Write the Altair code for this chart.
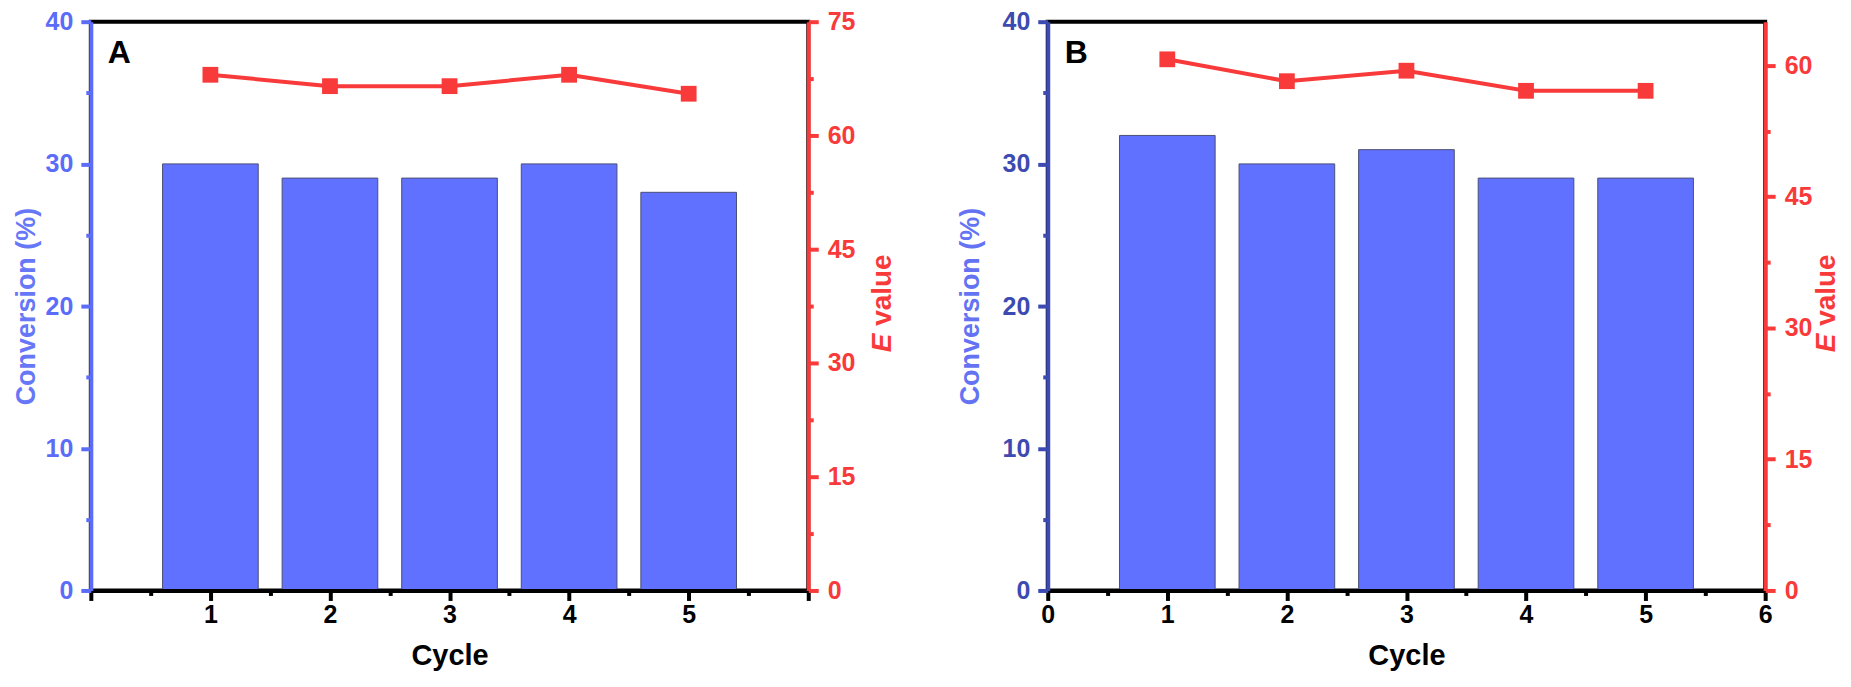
import altair as alt
import pandas as pd

FONT = "Liberation Sans"

# ---- data ----
cycles = [1, 2, 3, 4, 5]
conversion_a = [30, 29, 29, 30, 28]
e_value_a = [68.0, 66.5, 66.5, 68.0, 65.5]
conversion_b = [32, 30, 31, 29, 29]
e_value_b = [60.7, 58.2, 59.4, 57.1, 57.1]

x_ticks = [0, 0.5, 1, 1.5, 2, 2.5, 3, 3.5, 4, 4.5, 5, 5.5, 6]
conv_ticks = [0, 5, 10, 15, 20, 25, 30, 35, 40]
e_ticks_a = [0, 7.5, 15, 22.5, 30, 37.5, 45, 52.5, 60, 67.5, 75]
e_ticks_b = [0, 7.5, 15, 22.5, 30, 37.5, 45, 52.5, 60]

BAR = "#6070FF"
RED = "#F83A3A"
W, H = 719, 570
LBL = 25


def panel(letter, conv, ev, e_max, e_ticks, left_color, left_title_color,
          x_label_expr, left_title_pad, e_offset):
    df = pd.DataFrame({"cycle": cycles, "conversion": conv, "evalue": ev})
    xscale = alt.Scale(domain=[0, 6], nice=False, zero=False)
    xaxis = alt.Axis(
        values=x_ticks, title="Cycle", labelExpr=x_label_expr,
        tickSize={"condition": {"test": "datum.value % 1 != 0", "value": 5}, "value": 10},
        tickWidth=4, tickColor="black", domainColor="black", domainWidth=4,
        labelColor="black", labelFontSize=LBL, labelFontWeight="bold", labelPadding=2,
        titleFontSize=29, titleFontWeight="bold", titleColor="black", titlePadding=14,
        labelOverlap=False, labelFlush=False, labelBound=False, grid=False, zindex=1,
        orient="bottom",
    )
    left_axis = alt.Axis(
        values=conv_ticks, title="Conversion (%)",
        labelExpr="datum.value % 10 == 0 ? '' + datum.value : ''",
        tickSize={"condition": {"test": "datum.value % 10 != 0", "value": 5}, "value": 10},
        tickWidth=4, tickColor=left_color, domainColor=left_color, domainWidth=4,
        labelColor=left_color, labelFontSize=LBL, labelFontWeight="bold", labelPadding=8,
        titleFontSize=27, titleFontWeight="bold", titleColor=left_title_color,
        titlePadding=left_title_pad, labelOverlap=False, labelFlush=False, labelBound=False,
        grid=False, zindex=1, orient="left",
    )
    right_axis = alt.Axis(
        values=e_ticks, title=None,
        labelExpr="datum.value % 15 == 0 ? '' + datum.value : ''",
        tickSize={"condition": {"test": "datum.value % 15 != 0", "value": 5}, "value": 10},
        tickWidth=4, tickColor=RED, domainColor=RED, domainWidth=4,
        labelColor=RED, labelFontSize=LBL, labelFontWeight="bold", labelPadding=9,
        labelOverlap=False, labelFlush=False, labelBound=False,
        grid=False, zindex=1, orient="right",
    )

    base = alt.Chart(df)
    bars = base.transform_calculate(
        x0="datum.cycle - 0.4", x1="datum.cycle + 0.4"
    ).mark_bar(color=BAR, stroke="#4a4f75", strokeWidth=1).encode(
        x=alt.X("x0:Q", scale=xscale, axis=xaxis),
        x2="x1:Q",
        y=alt.Y("conversion:Q", scale=alt.Scale(domain=[0, 40], nice=False), axis=left_axis),
        y2=alt.datum(0),
    )
    line = base.mark_line(
        color=RED, strokeWidth=4,
        point=alt.OverlayMarkDef(shape="square", size=250, filled=True, color=RED, opacity=1),
    ).encode(
        x=alt.X("cycle:Q", scale=xscale, axis=xaxis),
        y=alt.Y("evalue:Q", scale=alt.Scale(domain=[0, e_max], nice=False), axis=right_axis),
    )

    one = alt.Data(values=[{"k": 1}])
    letter_txt = alt.Chart(one).mark_text(
        text=letter, font=FONT, fontSize=32, fontWeight="bold", color="black",
        align="left", baseline="alphabetic",
    ).encode(x=alt.value(17), y=alt.value(41))

    # rotated right-axis title "E value" with italic E
    fs = 28
    yc = H * 0.495
    total = (0.667 + 0.278 + 2.557) * fs
    y_bottom = yc + total / 2
    e_txt = alt.Chart(one).mark_text(
        text="E", font=FONT, fontSize=fs, fontWeight="bold", fontStyle="italic",
        color=RED, angle=270, align="left", baseline="middle",
    ).encode(x=alt.value(W + e_offset), y=alt.value(y_bottom))
    v_txt = alt.Chart(one).mark_text(
        text="value", font=FONT, fontSize=fs, fontWeight="bold",
        color=RED, angle=270, align="left", baseline="middle",
    ).encode(x=alt.value(W + e_offset), y=alt.value(y_bottom - (0.667 + 0.278) * fs))

    return alt.layer(bars, line, letter_txt, e_txt, v_txt).resolve_scale(
        y="independent"
    ).resolve_axis(y="independent").properties(width=W, height=H)


panel_a = panel(
    "A", conversion_a, e_value_a, 75, e_ticks_a, "#5B6CF8", "#6677F7",
    "datum.value % 1 == 0 && datum.value > 0 && datum.value < 6 ? '' + datum.value : ''",
    5, 75,
)
panel_b = panel(
    "B", conversion_b, e_value_b, 65, e_ticks_b, "#3C4AB2", "#6373F3",
    "datum.value % 1 == 0 ? '' + datum.value : ''",
    18, 62,
)

chart = alt.hconcat(panel_a, panel_b, spacing=55).properties(
    padding={"left": 2, "top": -1, "right": 0, "bottom": 0}
).configure_view(
    stroke="black", strokeWidth=4
).configure_axis(
    labelFont=FONT, titleFont=FONT
).configure_text(font=FONT)

chart.save("out.html", embed_options={"renderer": "svg", "actions": False})
